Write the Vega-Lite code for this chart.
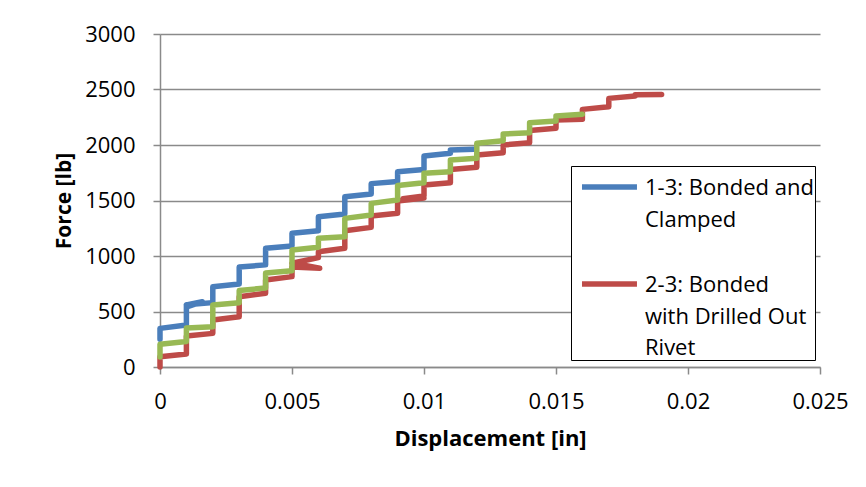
{
  "$schema": "https://vega.github.io/schema/vega-lite/v6.json",
  "width": 660,
  "height": 333,
  "autosize": {"type": "none"},
  "padding": {"left": 160, "top": 34, "right": 46, "bottom": 120},
  "background": "white",
  "config": {
    "view": {"stroke": null},
    "font": "Open Sans"
  },
  "data": {
    "values": [
      {"s": "1-3: Bonded and Clamped", "o": 1, "x": 0, "y": 250},
      {"s": "1-3: Bonded and Clamped", "o": 2, "x": 0, "y": 348},
      {"s": "1-3: Bonded and Clamped", "o": 3, "x": 0.001, "y": 378},
      {"s": "1-3: Bonded and Clamped", "o": 4, "x": 0.001, "y": 560},
      {"s": "1-3: Bonded and Clamped", "o": 5, "x": 0.0016, "y": 588},
      {"s": "1-3: Bonded and Clamped", "o": 6, "x": 0.0011, "y": 548},
      {"s": "1-3: Bonded and Clamped", "o": 7, "x": 0.001, "y": 560},
      {"s": "1-3: Bonded and Clamped", "o": 8, "x": 0.002, "y": 580},
      {"s": "1-3: Bonded and Clamped", "o": 9, "x": 0.002, "y": 723},
      {"s": "1-3: Bonded and Clamped", "o": 10, "x": 0.003, "y": 748},
      {"s": "1-3: Bonded and Clamped", "o": 11, "x": 0.003, "y": 900},
      {"s": "1-3: Bonded and Clamped", "o": 12, "x": 0.004, "y": 920},
      {"s": "1-3: Bonded and Clamped", "o": 13, "x": 0.004, "y": 1070},
      {"s": "1-3: Bonded and Clamped", "o": 14, "x": 0.005, "y": 1090},
      {"s": "1-3: Bonded and Clamped", "o": 15, "x": 0.005, "y": 1204},
      {"s": "1-3: Bonded and Clamped", "o": 16, "x": 0.006, "y": 1228},
      {"s": "1-3: Bonded and Clamped", "o": 17, "x": 0.006, "y": 1354},
      {"s": "1-3: Bonded and Clamped", "o": 18, "x": 0.007, "y": 1378},
      {"s": "1-3: Bonded and Clamped", "o": 19, "x": 0.007, "y": 1534},
      {"s": "1-3: Bonded and Clamped", "o": 20, "x": 0.008, "y": 1559},
      {"s": "1-3: Bonded and Clamped", "o": 21, "x": 0.008, "y": 1652},
      {"s": "1-3: Bonded and Clamped", "o": 22, "x": 0.009, "y": 1672},
      {"s": "1-3: Bonded and Clamped", "o": 23, "x": 0.009, "y": 1760},
      {"s": "1-3: Bonded and Clamped", "o": 24, "x": 0.010, "y": 1780},
      {"s": "1-3: Bonded and Clamped", "o": 25, "x": 0.010, "y": 1901},
      {"s": "1-3: Bonded and Clamped", "o": 26, "x": 0.011, "y": 1925},
      {"s": "1-3: Bonded and Clamped", "o": 27, "x": 0.011, "y": 1955},
      {"s": "1-3: Bonded and Clamped", "o": 28, "x": 0.0119, "y": 1962},

      {"s": "2-3: Bonded with Drilled Out Rivet", "o": 1, "x": 0, "y": 0},
      {"s": "2-3: Bonded with Drilled Out Rivet", "o": 2, "x": 0, "y": 93},
      {"s": "2-3: Bonded with Drilled Out Rivet", "o": 3, "x": 0.001, "y": 117},
      {"s": "2-3: Bonded with Drilled Out Rivet", "o": 4, "x": 0.001, "y": 279},
      {"s": "2-3: Bonded with Drilled Out Rivet", "o": 5, "x": 0.002, "y": 303},
      {"s": "2-3: Bonded with Drilled Out Rivet", "o": 6, "x": 0.002, "y": 423},
      {"s": "2-3: Bonded with Drilled Out Rivet", "o": 7, "x": 0.003, "y": 453},
      {"s": "2-3: Bonded with Drilled Out Rivet", "o": 8, "x": 0.003, "y": 633},
      {"s": "2-3: Bonded with Drilled Out Rivet", "o": 9, "x": 0.004, "y": 664},
      {"s": "2-3: Bonded with Drilled Out Rivet", "o": 10, "x": 0.004, "y": 784},
      {"s": "2-3: Bonded with Drilled Out Rivet", "o": 11, "x": 0.005, "y": 814},
      {"s": "2-3: Bonded with Drilled Out Rivet", "o": 12, "x": 0.005, "y": 900},
      {"s": "2-3: Bonded with Drilled Out Rivet", "o": 13, "x": 0.00605, "y": 890},
      {"s": "2-3: Bonded with Drilled Out Rivet", "o": 14, "x": 0.0055, "y": 915},
      {"s": "2-3: Bonded with Drilled Out Rivet", "o": 15, "x": 0.005, "y": 935},
      {"s": "2-3: Bonded with Drilled Out Rivet", "o": 16, "x": 0.006, "y": 985},
      {"s": "2-3: Bonded with Drilled Out Rivet", "o": 17, "x": 0.006, "y": 1039},
      {"s": "2-3: Bonded with Drilled Out Rivet", "o": 18, "x": 0.007, "y": 1069},
      {"s": "2-3: Bonded with Drilled Out Rivet", "o": 19, "x": 0.007, "y": 1228},
      {"s": "2-3: Bonded with Drilled Out Rivet", "o": 20, "x": 0.008, "y": 1258},
      {"s": "2-3: Bonded with Drilled Out Rivet", "o": 21, "x": 0.008, "y": 1360},
      {"s": "2-3: Bonded with Drilled Out Rivet", "o": 22, "x": 0.009, "y": 1385},
      {"s": "2-3: Bonded with Drilled Out Rivet", "o": 23, "x": 0.009, "y": 1495},
      {"s": "2-3: Bonded with Drilled Out Rivet", "o": 24, "x": 0.010, "y": 1522},
      {"s": "2-3: Bonded with Drilled Out Rivet", "o": 25, "x": 0.0092, "y": 1515},
      {"s": "2-3: Bonded with Drilled Out Rivet", "o": 26, "x": 0.010, "y": 1540},
      {"s": "2-3: Bonded with Drilled Out Rivet", "o": 27, "x": 0.010, "y": 1640},
      {"s": "2-3: Bonded with Drilled Out Rivet", "o": 28, "x": 0.011, "y": 1660},
      {"s": "2-3: Bonded with Drilled Out Rivet", "o": 29, "x": 0.011, "y": 1780},
      {"s": "2-3: Bonded with Drilled Out Rivet", "o": 30, "x": 0.012, "y": 1799},
      {"s": "2-3: Bonded with Drilled Out Rivet", "o": 31, "x": 0.012, "y": 1910},
      {"s": "2-3: Bonded with Drilled Out Rivet", "o": 32, "x": 0.013, "y": 1931},
      {"s": "2-3: Bonded with Drilled Out Rivet", "o": 33, "x": 0.013, "y": 2000},
      {"s": "2-3: Bonded with Drilled Out Rivet", "o": 34, "x": 0.014, "y": 2021},
      {"s": "2-3: Bonded with Drilled Out Rivet", "o": 35, "x": 0.014, "y": 2130},
      {"s": "2-3: Bonded with Drilled Out Rivet", "o": 36, "x": 0.015, "y": 2150},
      {"s": "2-3: Bonded with Drilled Out Rivet", "o": 37, "x": 0.015, "y": 2225},
      {"s": "2-3: Bonded with Drilled Out Rivet", "o": 38, "x": 0.016, "y": 2231},
      {"s": "2-3: Bonded with Drilled Out Rivet", "o": 39, "x": 0.016, "y": 2321},
      {"s": "2-3: Bonded with Drilled Out Rivet", "o": 40, "x": 0.017, "y": 2345},
      {"s": "2-3: Bonded with Drilled Out Rivet", "o": 41, "x": 0.017, "y": 2420},
      {"s": "2-3: Bonded with Drilled Out Rivet", "o": 42, "x": 0.018, "y": 2441},
      {"s": "2-3: Bonded with Drilled Out Rivet", "o": 43, "x": 0.018, "y": 2452},
      {"s": "2-3: Bonded with Drilled Out Rivet", "o": 44, "x": 0.019, "y": 2456},

      {"s": "3-3", "o": 1, "x": 0, "y": 90},
      {"s": "3-3", "o": 2, "x": 0, "y": 205},
      {"s": "3-3", "o": 3, "x": 0.001, "y": 230},
      {"s": "3-3", "o": 4, "x": 0.001, "y": 351},
      {"s": "3-3", "o": 5, "x": 0.002, "y": 363},
      {"s": "3-3", "o": 6, "x": 0.002, "y": 558},
      {"s": "3-3", "o": 7, "x": 0.003, "y": 579},
      {"s": "3-3", "o": 8, "x": 0.003, "y": 690},
      {"s": "3-3", "o": 9, "x": 0.004, "y": 711},
      {"s": "3-3", "o": 10, "x": 0.004, "y": 846},
      {"s": "3-3", "o": 11, "x": 0.005, "y": 868},
      {"s": "3-3", "o": 12, "x": 0.005, "y": 1054},
      {"s": "3-3", "o": 13, "x": 0.006, "y": 1078},
      {"s": "3-3", "o": 14, "x": 0.006, "y": 1159},
      {"s": "3-3", "o": 15, "x": 0.007, "y": 1174},
      {"s": "3-3", "o": 16, "x": 0.007, "y": 1339},
      {"s": "3-3", "o": 17, "x": 0.008, "y": 1369},
      {"s": "3-3", "o": 18, "x": 0.008, "y": 1474},
      {"s": "3-3", "o": 19, "x": 0.009, "y": 1504},
      {"s": "3-3", "o": 20, "x": 0.009, "y": 1635},
      {"s": "3-3", "o": 21, "x": 0.010, "y": 1660},
      {"s": "3-3", "o": 22, "x": 0.010, "y": 1745},
      {"s": "3-3", "o": 23, "x": 0.011, "y": 1760},
      {"s": "3-3", "o": 24, "x": 0.011, "y": 1865},
      {"s": "3-3", "o": 25, "x": 0.012, "y": 1880},
      {"s": "3-3", "o": 26, "x": 0.012, "y": 2015},
      {"s": "3-3", "o": 27, "x": 0.013, "y": 2039},
      {"s": "3-3", "o": 28, "x": 0.013, "y": 2099},
      {"s": "3-3", "o": 29, "x": 0.014, "y": 2111},
      {"s": "3-3", "o": 30, "x": 0.014, "y": 2201},
      {"s": "3-3", "o": 31, "x": 0.015, "y": 2216},
      {"s": "3-3", "o": 32, "x": 0.015, "y": 2261},
      {"s": "3-3", "o": 33, "x": 0.016, "y": 2276}
    ]
  },
  "mark": {"type": "line", "strokeWidth": 5.5, "strokeCap": "round", "strokeJoin": "round"},
  "encoding": {
    "x": {
      "field": "x", "type": "quantitative",
      "scale": {"domain": [0, 0.025], "nice": false, "zero": false},
      "axis": {
        "values": [0, 0.005, 0.01, 0.015, 0.02, 0.025],
        "format": "~g",
        "grid": false,
        "domainColor": "#8a8a8a", "domainWidth": 1.5,
        "tickColor": "#8a8a8a", "tickWidth": 1.5, "tickSize": 7,
        "labelFont": "Open Sans", "labelFontSize": 22, "labelColor": "#000", "labelPadding": 17,
        "labelFlush": false, "labelOverlap": false,
        "title": "Displacement [in]",
        "titleFont": "Open Sans", "titleFontSize": 22, "titleFontWeight": "bold", "titleColor": "#000",
        "titlePadding": 16
      }
    },
    "y": {
      "field": "y", "type": "quantitative",
      "scale": {"domain": [0, 3000], "nice": false},
      "axis": {
        "values": [0, 500, 1000, 1500, 2000, 2500, 3000],
        "format": "d",
        "grid": true, "gridColor": "#8a8a8a", "gridWidth": 1.5,
        "domainColor": "#8a8a8a", "domainWidth": 1.5,
        "tickColor": "#8a8a8a", "tickWidth": 1.5, "tickSize": 7,
        "labelFont": "Open Sans", "labelFontSize": 22, "labelColor": "#000", "labelPadding": 18,
        "labelFlush": false, "labelOverlap": false,
        "title": "Force [lb]",
        "titleFont": "Open Sans", "titleFontSize": 21, "titleFontWeight": "bold", "titleColor": "#000",
        "titlePadding": 10
      }
    },
    "color": {
      "field": "s", "type": "nominal",
      "scale": {
        "domain": ["1-3: Bonded and Clamped", "2-3: Bonded with Drilled Out Rivet", "3-3"],
        "range": ["#4a7ebb", "#be4b48", "#98b954"]
      },
      "legend": {
        "orient": "none", "legendX": 411, "legendY": 132,
        "title": null,
        "values": ["1-3: Bonded and Clamped", "2-3: Bonded with Drilled Out Rivet"],
        "symbolType": "M-0.143,1.29H7.71", "symbolSize": 196, "symbolStrokeWidth": 5.5,
        "labelFont": "Open Sans", "labelFontSize": 22, "labelColor": "#000",
        "labelBaseline": "top", "labelOffset": 51, "labelLimit": 400,
        "labelExpr": "datum.label == '1-3: Bonded and Clamped' ? ['1-3: Bonded and', 'Clamped'] : ['2-3: Bonded', 'with Drilled Out', 'Rivet']",
        "rowPadding": 33, "padding": 1,
        "strokeColor": "#000", "fillColor": "#fff",
        "encode": {"labels": {"update": {"lineHeight": {"value": 31.5}}}}
      }
    },
    "order": {"field": "o", "type": "quantitative"}
  }
}
